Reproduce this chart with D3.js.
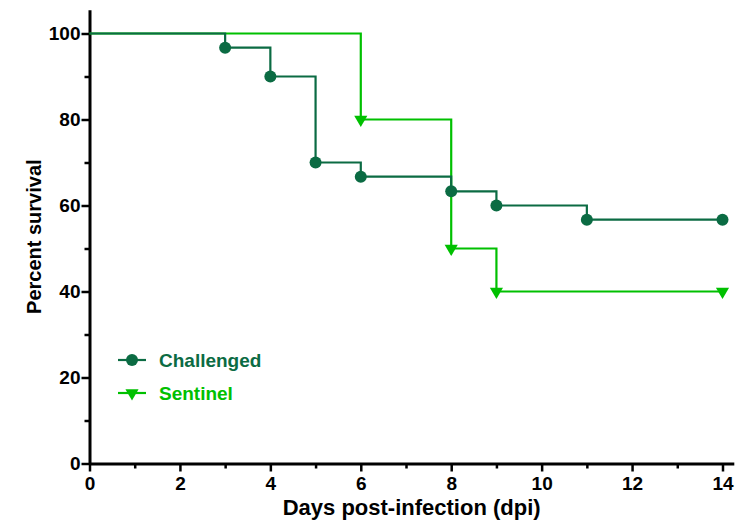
<!DOCTYPE html>
<html>
<head>
<meta charset="utf-8">
<script src="https://cdn.jsdelivr.net/npm/d3@7"></script>
<style>
  body { margin: 0; background: #fff; }
  svg { display: block; font-family: "Liberation Sans", Arial, sans-serif; font-weight: bold; }
</style>
</head>
<body>
<div id="chart"></div>
<script>
// survival data (Kaplan-Meier steps), days vs percent
var challengedDays = [0, 3, 4, 5, 6, 8, 9, 11, 14];
var challengedPct = [100, 96.7, 90, 70, 66.7, 63.3, 60, 56.7, 56.7];
var sentinelDays = [0, 6, 8, 9, 14];
var sentinelPct = [100, 80, 50, 40, 40];

var xMajor = [0, 2, 4, 6, 8, 10, 12, 14];
var xMinor = [1, 3, 5, 7, 9, 11, 13];
var yMajor = [0, 20, 40, 60, 80, 100];
var yMinor = [10, 30, 50, 70, 90];

var darkGreen = "#0b6b43";
var brightGreen = "#00c000";

var width = 749, height = 524;

var svg = d3.select("#chart").append("svg")
  .attr("width", width)
  .attr("height", height);

var x = d3.scaleLinear().domain([0, 14.25]).range([89.5, 733.8]);
var y = d3.scaleLinear().domain([0, 105.5]).range([463.5, 9.85]);

function drawAxes() {
  svg.append("g")
    .attr("transform", "translate(0," + y(0) + ")")
    .call(d3.axisBottom(x).tickValues(xMajor).tickSize(8).tickSizeOuter(0).tickPadding(5));
  svg.append("g")
    .attr("transform", "translate(0," + y(0) + ")")
    .call(d3.axisBottom(x).tickValues(xMinor).tickSize(5).tickSizeOuter(0).tickFormat(""))
    .select(".domain").remove();

  svg.append("g")
    .attr("transform", "translate(" + x(0) + ",0)")
    .call(d3.axisLeft(y).tickValues(yMajor).tickSize(8).tickSizeOuter(0).tickPadding(1));
  svg.append("g")
    .attr("transform", "translate(" + x(0) + ",0)")
    .call(d3.axisLeft(y).tickValues(yMinor).tickSize(5).tickSizeOuter(0).tickFormat(""))
    .select(".domain").remove();

  svg.selectAll(".domain").attr("stroke", "#000").attr("stroke-width", 3);
  svg.selectAll(".tick line").attr("stroke", "#000").attr("stroke-width", 2.5);
  svg.selectAll(".tick text")
    .attr("fill", "#000")
    .style("font-size", "19px")
    .style("font-family", "'Liberation Sans', Arial, sans-serif")
    .style("font-weight", "bold");

  svg.append("text")
    .attr("x", (x.range()[0] + x.range()[1]) / 2)
    .attr("y", 515)
    .attr("text-anchor", "middle")
    .style("font-size", "22px")
    .text("Days post-infection (dpi)");

  svg.append("text")
    .attr("transform", "translate(41," + (y.range()[0] + y.range()[1]) / 2 + ") rotate(-90)")
    .attr("text-anchor", "middle")
    .style("font-size", "20px")
    .text("Percent survival");
}

function stepPath(days, pct) {
  var pts = [];
  for (var i = 0; i < days.length; i++) {
    if (i > 0) pts.push([days[i], pct[i - 1]]);
    pts.push([days[i], pct[i]]);
  }
  return d3.line().x(function(d) { return x(d[0]); }).y(function(d) { return y(d[1]); })(pts);
}

var triangle = d3.symbol().type(d3.symbolTriangle).size(75);

function drawSentinel() {
  svg.append("path")
    .attr("d", stepPath(sentinelDays, sentinelPct))
    .attr("fill", "none")
    .attr("stroke", brightGreen)
    .attr("stroke-width", 2.2);
  svg.selectAll(".sent-pt")
    .data(d3.range(1, sentinelDays.length))
    .enter().append("path")
    .attr("class", "sent-pt")
    .attr("d", triangle)
    .attr("transform", function(i) { return "translate(" + x(sentinelDays[i]) + "," + y(sentinelPct[i]) + ") rotate(180)"; })
    .attr("fill", brightGreen);
}

function drawChallenged() {
  svg.append("path")
    .attr("d", stepPath(challengedDays, challengedPct))
    .attr("fill", "none")
    .attr("stroke", darkGreen)
    .attr("stroke-width", 2.2);
  svg.selectAll(".chal-pt")
    .data(d3.range(1, challengedDays.length))
    .enter().append("circle")
    .attr("class", "chal-pt")
    .attr("cx", function(i) { return x(challengedDays[i]); })
    .attr("cy", function(i) { return y(challengedPct[i]); })
    .attr("r", 6)
    .attr("fill", darkGreen);
}

function drawLegend() {
  var items = [
    { name: "Challenged", color: darkGreen, y: 360, shape: "circle" },
    { name: "Sentinel", color: brightGreen, y: 393, shape: "tri" }
  ];
  items.forEach(function(it) {
    svg.append("line")
      .attr("x1", 118).attr("x2", 146)
      .attr("y1", it.y).attr("y2", it.y)
      .attr("stroke", it.color).attr("stroke-width", 2.2);
    if (it.shape == "circle") {
      svg.append("circle").attr("cx", 132).attr("cy", it.y).attr("r", 6).attr("fill", it.color);
    } else {
      svg.append("path").attr("d", triangle)
        .attr("transform", "translate(132," + it.y + ") rotate(180)")
        .attr("fill", it.color);
    }
    svg.append("text")
      .attr("x", 159).attr("y", it.y + 7)
      .attr("fill", it.color)
      .style("font-size", "19px")
      .text(it.name);
  });
}

drawAxes();
drawSentinel();
drawChallenged();
drawLegend();
</script>
</body>
</html>
